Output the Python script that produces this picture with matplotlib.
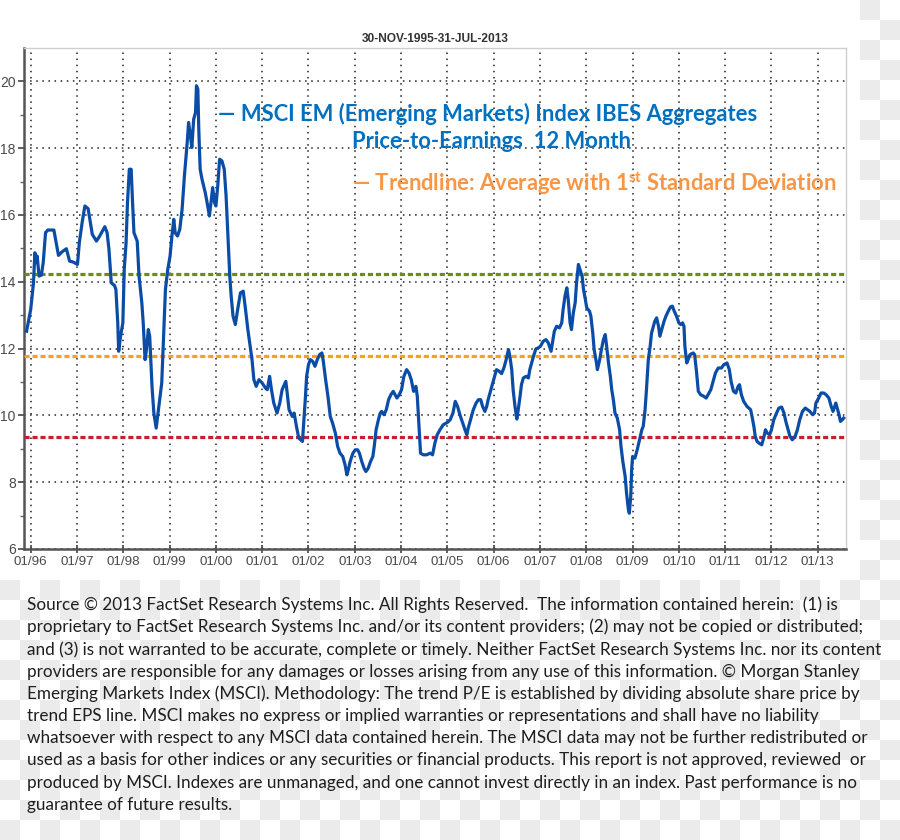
import numpy as np
import matplotlib
matplotlib.use("Agg")
import matplotlib.pyplot as plt
from matplotlib.patches import Rectangle

plt.rcParams["mathtext.fontset"] = "custom"
plt.rcParams["mathtext.rm"] = "Lato"
plt.rcParams["mathtext.bf"] = "Lato:bold"

# ---------------- data ----------------
years = [1995.91, 1996.00, 1996.06, 1996.09, 1996.11, 1996.14, 1996.18, 1996.23, 1996.27, 1996.32,
         1996.37, 1996.50, 1996.55, 1996.60, 1996.67, 1996.77, 1996.84, 1996.92, 1997.01, 1997.05,
         1997.11, 1997.17, 1997.24, 1997.29, 1997.33, 1997.42, 1997.49, 1997.60, 1997.65, 1997.69,
         1997.74, 1997.81, 1997.84, 1997.88, 1997.90, 1997.94, 1997.99, 1998.02, 1998.06, 1998.09,
         1998.13, 1998.17, 1998.20, 1998.23, 1998.30, 1998.34, 1998.40, 1998.43, 1998.47, 1998.50,
         1998.54, 1998.57, 1998.59, 1998.62, 1998.66, 1998.71,
         1998.83, 1998.87, 1998.91, 1998.96, 1999.01, 1999.05, 1999.09, 1999.12, 1999.17, 1999.22,
         1999.27, 1999.32, 1999.38, 1999.41, 1999.45, 1999.48, 1999.52, 1999.56, 1999.58, 1999.61,
         1999.63, 1999.66, 1999.70, 1999.77, 1999.81, 1999.86, 1999.90, 1999.93, 1999.97, 2000.00,
         2000.04, 2000.08, 2000.13, 2000.18, 2000.22, 2000.26, 2000.30, 2000.33, 2000.37, 2000.42,
         2000.47, 2000.53, 2000.59, 2000.64, 2000.69, 2000.73, 2000.78, 2000.82, 2000.87, 2000.93,
         2001.00, 2001.07, 2001.11, 2001.16, 2001.20, 2001.25, 2001.32, 2001.38, 2001.43, 2001.51,
         2001.54, 2001.58, 2001.65, 2001.69, 2001.74, 2001.79, 2001.87,
         2001.93, 2001.96, 2002.00, 2002.04, 2002.09, 2002.14, 2002.19, 2002.24, 2002.29, 2002.32,
         2002.37, 2002.42, 2002.47, 2002.52, 2002.58, 2002.63, 2002.68, 2002.74, 2002.79, 2002.83,
         2002.86, 2002.90, 2002.96, 2003.01, 2003.06, 2003.10, 2003.15, 2003.20, 2003.24, 2003.29,
         2003.34, 2003.39, 2003.42, 2003.46, 2003.51, 2003.55, 2003.58, 2003.63, 2003.68, 2003.73,
         2003.78, 2003.83, 2003.91, 2003.96, 2004.01, 2004.06, 2004.12, 2004.17, 2004.22, 2004.27,
         2004.32, 2004.35, 2004.39, 2004.42, 2004.48, 2004.55, 2004.63, 2004.68, 2004.73, 2004.78,
         2004.84, 2004.91, 2005.00, 2005.06, 2005.12, 2005.17, 2005.22, 2005.27, 2005.33, 2005.38,
         2005.42, 2005.45, 2005.50, 2005.56, 2005.62, 2005.67, 2005.72, 2005.76, 2005.81, 2005.85,
         2005.88, 2005.92, 2005.96, 2005.99, 2006.03, 2006.06, 2006.12, 2006.17, 2006.22, 2006.27,
         2006.32, 2006.35, 2006.39, 2006.42, 2006.46, 2006.50, 2006.53, 2006.57, 2006.60, 2006.64,
         2006.70, 2006.75, 2006.78, 2006.82, 2006.86, 2006.91, 2006.96, 2007.01, 2007.07, 2007.13,
         2007.18, 2007.24, 2007.27, 2007.31, 2007.36, 2007.42, 2007.47, 2007.50, 2007.54, 2007.58,
         2007.61, 2007.65, 2007.68, 2007.72, 2007.76, 2007.79, 2007.83,
         2007.91, 2007.94, 2007.98, 2008.01, 2008.07, 2008.10, 2008.14, 2008.17, 2008.22, 2008.24,
         2008.29, 2008.32, 2008.37, 2008.41, 2008.44, 2008.48, 2008.52, 2008.55, 2008.59, 2008.62,
         2008.67, 2008.72, 2008.75, 2008.79, 2008.84, 2008.87, 2008.91, 2008.93, 2008.96, 2008.98,
         2009.00, 2009.05, 2009.10, 2009.15, 2009.20, 2009.23, 2009.27, 2009.30, 2009.34, 2009.38,
         2009.41, 2009.45, 2009.48, 2009.52, 2009.56, 2009.59, 2009.63, 2009.68, 2009.72, 2009.77,
         2009.82, 2009.86, 2009.90, 2009.95, 2010.00, 2010.04, 2010.08, 2010.11, 2010.13, 2010.17,
         2010.20, 2010.24, 2010.31, 2010.34, 2010.38, 2010.42, 2010.47, 2010.54, 2010.59, 2010.63,
         2010.69, 2010.74, 2010.79, 2010.85, 2010.92, 2010.97,
         2011.04, 2011.09, 2011.13, 2011.18, 2011.23, 2011.28, 2011.31, 2011.35, 2011.40, 2011.47,
         2011.55, 2011.58, 2011.62, 2011.65, 2011.69, 2011.73, 2011.79, 2011.84, 2011.87, 2011.91,
         2011.96, 2012.00, 2012.05, 2012.11, 2012.16, 2012.22, 2012.27, 2012.31, 2012.36, 2012.40,
         2012.45, 2012.51, 2012.56, 2012.61, 2012.67, 2012.73, 2012.78, 2012.83, 2012.89, 2012.93,
         2012.96, 2013.02, 2013.07, 2013.13, 2013.18, 2013.24, 2013.29, 2013.33, 2013.39, 2013.41,
         2013.46, 2013.49, 2013.53, 2013.56]

pe = [12.52, 13.17, 13.97, 14.87, 14.57, 14.77, 14.17, 14.20, 14.57, 15.47,
      15.55, 15.55, 15.17, 14.79, 14.89, 14.99, 14.62, 14.59, 14.52, 15.17,
      15.77, 16.27, 16.19, 15.77, 15.42, 15.22, 15.37, 15.65, 15.47, 14.97,
      13.97, 13.89, 13.77, 12.77, 11.92, 12.37, 12.77, 14.37, 15.17, 16.37,
      17.37, 17.37, 16.37, 15.47, 15.22, 14.17, 13.37, 12.77, 11.67, 11.97,
      12.57, 12.37, 11.77, 10.87, 10.07, 9.62,
      10.97, 12.37, 13.77, 14.37, 14.77, 15.37, 15.87, 15.47, 15.37, 15.57,
      16.17, 17.17, 18.17, 18.77, 18.37, 18.02, 18.87, 19.07, 19.87, 19.77,
      18.57, 17.37, 17.07, 16.67, 16.37, 15.97, 16.47, 16.82, 16.37, 16.27,
      16.87, 17.67, 17.62, 17.37, 16.57, 15.37, 14.17, 13.57, 12.97, 12.72,
      13.17, 13.67, 13.72, 13.17, 12.57, 12.17, 11.67, 11.07, 10.87, 11.07,
      10.97, 10.82, 10.77, 11.17, 10.77, 10.37, 10.07, 10.37, 10.77, 11.02,
      10.67, 10.17, 9.97, 10.07, 9.67, 9.32, 9.22,
      10.47, 11.17, 11.52, 11.67, 11.62, 11.47, 11.67, 11.82, 11.87, 11.62,
      11.07, 10.57, 9.97, 9.77, 9.47, 9.07, 8.87, 8.77, 8.52, 8.22,
      8.37, 8.62, 8.87, 8.97, 8.97, 8.87, 8.62, 8.42, 8.32, 8.42,
      8.62, 8.77, 9.07, 9.57, 9.87, 10.07, 10.12, 10.02, 10.17, 10.47,
      10.62, 10.72, 10.52, 10.62, 10.77, 11.17, 11.37, 11.27, 11.07, 10.72,
      10.87, 10.57, 9.57, 8.87, 8.82, 8.82, 8.87, 8.82, 9.17, 9.42,
      9.57, 9.72, 9.79, 9.87, 10.07, 10.42, 10.27, 10.02, 9.77, 9.57,
      9.42, 9.62, 9.87, 10.17, 10.37, 10.47, 10.47, 10.27, 10.12, 10.27,
      10.47, 10.67, 10.87, 11.02, 11.22, 11.37, 11.32, 11.25, 11.42, 11.67,
      11.97, 11.77, 11.37, 10.77, 10.27, 9.89, 10.17, 10.57, 10.92, 11.12,
      11.17, 11.12, 11.37, 11.57, 11.77, 11.99, 12.02, 12.07, 12.22, 12.27,
      12.17, 11.92, 12.17, 12.52, 12.67, 12.62, 12.77, 13.17, 13.57, 13.82,
      13.47, 12.77, 12.57, 13.07, 13.37, 13.97, 14.52,
      14.17, 13.77, 13.47, 13.22, 13.12, 12.97, 12.47, 11.97, 11.57, 11.37,
      11.67, 11.92, 12.27, 12.42, 12.07, 11.57, 11.17, 10.77, 10.42, 10.07,
      9.92, 9.57, 9.07, 8.62, 8.17, 7.67, 7.17, 7.07, 7.57, 8.37,
      8.77, 8.72, 8.97, 9.27, 9.57, 9.67, 10.17, 10.77, 11.67, 12.07,
      12.47, 12.67, 12.82, 12.92, 12.67, 12.37, 12.57, 12.82, 12.97, 13.12,
      13.25, 13.27, 13.12, 12.97, 12.77, 12.72, 12.77, 12.67, 12.07, 11.57,
      11.67, 11.82, 11.87, 11.82, 11.32, 10.72, 10.62, 10.57, 10.52, 10.62,
      10.77, 11.02, 11.27, 11.42, 11.42, 11.52,
      11.57, 11.37, 11.00, 10.72, 10.67, 10.87, 10.92, 10.62, 10.42, 10.27,
      10.17, 9.97, 9.67, 9.37, 9.22, 9.17, 9.12, 9.37, 9.57, 9.47,
      9.42, 9.57, 9.87, 10.07, 10.22, 10.25, 10.07, 9.82, 9.57, 9.37,
      9.27, 9.37, 9.57, 9.87, 10.12, 10.22, 10.17, 10.12, 10.02, 10.07,
      10.37, 10.52, 10.67, 10.67, 10.62, 10.52, 10.27, 10.12, 10.37, 10.27,
      10.02, 9.82, 9.87, 9.92]

trend_upper = 14.24   # average + 1 standard deviation
trend_mean = 11.79    # average
trend_lower = 9.34    # average - 1 standard deviation

tick_years = [1996, 1997, 1998, 1999, 2000, 2001, 2002, 2003, 2004,
              2005, 2006, 2007, 2008, 2009, 2010, 2011, 2012, 2013]
tick_labels = ["01/96", "01/97", "01/98", "01/99", "01/00", "01/01", "01/02", "01/03", "01/04",
               "01/05", "01/06", "01/07", "01/08", "01/09", "01/10", "01/11", "01/12", "01/13"]
y_ticks = [6, 8, 10, 12, 14, 16, 18, 20]

title_text = "30-NOV-1995-31-JUL-2013"
legend_line1 = "\u2014 MSCI EM (Emerging Markets) Index IBES Aggregates"
legend_line2 = "Price-to-Earnings  12 Month"
legend_line3 = "\u2014 Trendline: Average with 1$^{\\mathbf{st}}$ Standard Deviation"

footer_lines = [
    "Source \u00a9 2013 FactSet Research Systems Inc. All Rights Reserved.  The information contained herein:  (1) is",
    "proprietary to FactSet Research Systems Inc. and/or its content providers; (2) may not be copied or distributed;",
    "and (3) is not warranted to be accurate, complete or timely. Neither FactSet Research Systems Inc. nor its content",
    "providers are responsible for any damages or losses arising from any use of this information. \u00a9 Morgan Stanley",
    "Emerging Markets Index (MSCI). Methodology: The trend P/E is established by dividing absolute share price by",
    "trend EPS line. MSCI makes no express or implied warranties or representations and shall have no liability",
    "whatsoever with respect to any MSCI data contained herein. The MSCI data may not be further redistributed or",
    "used as a basis for other indices or any securities or financial products. This report is not approved, reviewed  or",
    "produced by MSCI. Indexes are unmanaged, and one cannot invest directly in an index. Past performance is no",
    "guarantee of future results.",
]

# ---------------- figure ----------------
W, H = 900, 840
fig = plt.figure(figsize=(W / 100, H / 100), dpi=100)


def fx(x):
    return x / W


def fy(y):
    return 1 - y / H


# checkerboard (transparency) background with white chart panel
bg = fig.add_axes([0, 0, 1, 1], zorder=-10)
bg.set_xlim(0, W)
bg.set_ylim(H, 0)
bg.axis("off")
yy, xx = np.mgrid[0:H, 0:W]
chk = ((xx // 20 + yy // 20) % 2) == 1
img = np.ones((H, W, 3))
img[chk] = 0.925
bg.imshow(img, extent=(0, W, H, 0), interpolation="nearest", aspect="auto")
bg.add_patch(Rectangle((0, 0), 860, 580, facecolor="white", edgecolor="none"))

ax = fig.add_axes([fx(24), fy(549), (846 - 24) / W, (549 - 48) / H])
ax.set_facecolor("white")

ax.plot(years, pe, color="#0B4DA6", lw=2.3, solid_joinstyle="round", zorder=5)
ax.axhline(trend_upper, color="#6E8C14", lw=2.3, ls=(0, (1.6, 0.9)), zorder=4)
ax.axhline(trend_mean, color="#F9A11B", lw=2.3, ls=(0, (1.6, 0.9)), zorder=4)
ax.axhline(trend_lower, color="#C8202A", lw=2.3, ls=(0, (1.6, 0.9)), zorder=4)

ax.set_xlim(1995.855, 2013.61)
ax.set_ylim(6, 21)
ax.set_xticks(tick_years)
ax.set_xticklabels(tick_labels)
ax.set_yticks(y_ticks)
ax.set_yticklabels([str(v) for v in y_ticks])
ax.set_yticks([7, 9, 11, 13, 15, 17, 19], minor=True)

ax.grid(True, which="major", color="#222222", ls=(0, (1, 3)), lw=1.1)
ax.set_axisbelow(True)

for s in ["left", "bottom"]:
    ax.spines[s].set_color("#555555")
    ax.spines[s].set_linewidth(1.8)
for s in ["top", "right"]:
    ax.spines[s].set_color("#cfcfcf")
    ax.spines[s].set_linewidth(1.0)

ax.tick_params(axis="x", which="major", direction="inout", length=6, width=1.2,
               color="#444444", labelsize=9.6, labelcolor="#4a4a4a", pad=2)
ax.tick_params(axis="y", which="major", direction="out", length=4, width=1.2,
               color="#444444", labelsize=10, labelcolor="#4a4a4a", pad=2)
ax.tick_params(axis="y", which="minor", direction="out", length=3, width=1.0, color="#666666")
for lab in ax.get_xticklabels() + ax.get_yticklabels():
    lab.set_family(["Liberation Sans", "DejaVu Sans"])

# title
fig.text(fx(435), fy(39), title_text, ha="center", va="center", fontsize=8.6,
         fontweight="bold", color="#333333", family=["Liberation Sans", "DejaVu Sans"])

# legend-style annotations
blue_txt = "#0070C0"
orange_txt = "#F79646"
lfont = dict(family=["Lato", "DejaVu Sans"], fontweight="bold", fontsize=15.8)
fig.text(fx(218), fy(114), legend_line1, ha="left", va="center", color=blue_txt, **lfont)
fig.text(fx(491), fy(142), legend_line2, ha="center", va="center", color=blue_txt, **lfont)
fig.text(fx(352), fy(191), legend_line3, ha="left", va="baseline", color=orange_txt, **lfont)

# footer
for i, line in enumerate(footer_lines):
    fig.text(fx(27), fy(605 + 22.2 * i), line, ha="left", va="center",
             fontsize=12.3, color="#1e1e1e", family=["Lato", "DejaVu Sans"])

fig.savefig("out.png", dpi=100)
